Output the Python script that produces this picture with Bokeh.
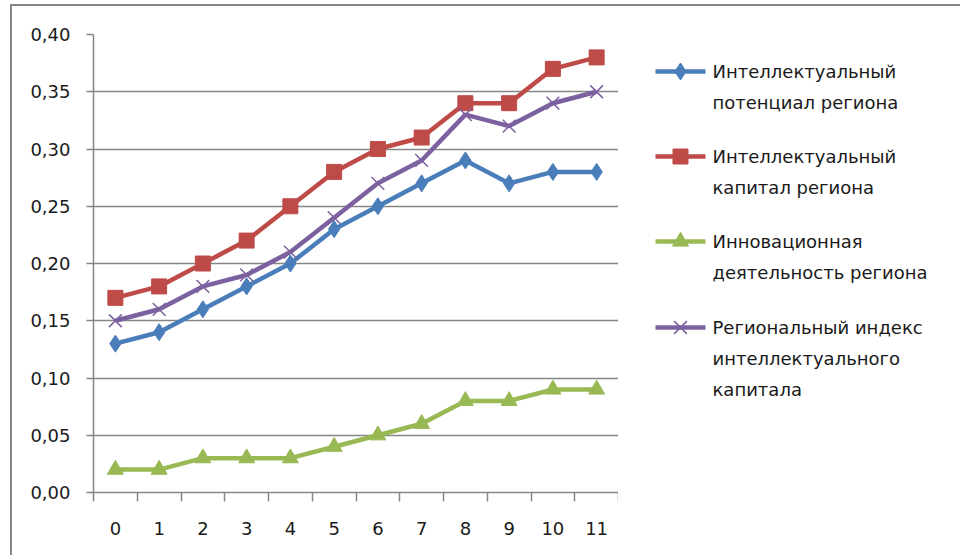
from bokeh.plotting import figure
from bokeh.layouts import row
from bokeh.models import FixedTicker, LinearAxis, Range1d, Grid
from bokeh.core.properties import value
from bokeh.embed import file_html
from bokeh.resources import INLINE

# periods along the x axis
periods = list(range(12))

# index values per period
potential = [0.13, 0.14, 0.16, 0.18, 0.20, 0.23, 0.25, 0.27, 0.29, 0.27, 0.28, 0.28]
capital = [0.17, 0.18, 0.20, 0.22, 0.25, 0.28, 0.30, 0.31, 0.34, 0.34, 0.37, 0.38]
innovation = [0.02, 0.02, 0.03, 0.03, 0.03, 0.04, 0.05, 0.06, 0.08, 0.08, 0.09, 0.09]
regional_index = [0.15, 0.16, 0.18, 0.19, 0.21, 0.24, 0.27, 0.29, 0.33, 0.32, 0.34, 0.35]

# legend text, one list of lines per series
series_names = [
    ["Интеллектуальный", "потенциал региона"],
    ["Интеллектуальный", "капитал региона"],
    ["Инновационная", "деятельность региона"],
    ["Региональный индекс", "интеллектуального", "капитала"],
]

y_ticks = [0.0, 0.05, 0.10, 0.15, 0.20, 0.25, 0.30, 0.35, 0.40]

FONT = "DejaVu Sans"
GRID = "#868686"
TEXT = "#1a1a1a"

colors = ["#4A7EBB", "#BE4B48", "#98B954", "#7D60A0"]
values = [potential, capital, innovation, regional_index]
markers = ["diamond", "square", "triangle", "x"]
sizes = [17, 15, 16, 18]

H = 549          # canvas height (page adds 6px above for the chart border)
CHART_W = 606    # plotting part, frame ends at its right edge
LEGEND_W = 342   # legend part to the right of the frame

# ---- main chart ----
p = figure(width=CHART_W, height=H, output_backend="svg", toolbar_location=None,
           x_range=Range1d(-0.5, 11.5), y_range=Range1d(0, 0.40),
           min_border_left=81, min_border_right=0, min_border_top=28,
           min_border_bottom=63, x_axis_type=None, y_axis_type=None)
p.outline_line_color = None
p.background_fill_color = "white"
p.border_fill_color = "white"

# y axis with comma decimals
yaxis = LinearAxis(ticker=FixedTicker(ticks=y_ticks))
yaxis.major_label_overrides = {t: f"{t:.2f}".replace(".", ",") for t in y_ticks}
yaxis.axis_line_color = GRID
yaxis.axis_line_width = 1.5
yaxis.major_tick_line_color = GRID
yaxis.major_tick_line_width = 1.5
yaxis.major_tick_out = 7
yaxis.major_tick_in = 0
yaxis.minor_tick_line_color = None
yaxis.major_label_standoff = 16
yaxis.major_label_text_font = FONT
yaxis.major_label_text_font_size = "18px"
yaxis.major_label_text_color = TEXT
p.add_layout(yaxis, "left")

# x axis: tick marks between categories
bounds = [i - 0.5 for i in range(13)]
xaxis = LinearAxis(ticker=FixedTicker(ticks=bounds))
xaxis.major_label_overrides = {b: "" for b in bounds}
xaxis.axis_line_color = GRID
xaxis.axis_line_width = 1.5
xaxis.major_tick_line_color = GRID
xaxis.major_tick_line_width = 1.5
xaxis.major_tick_out = 9
xaxis.major_tick_in = 0
xaxis.minor_tick_line_color = None
xaxis.major_label_standoff = 0
xaxis.major_label_text_font_size = "1px"
p.add_layout(xaxis, "below")

# x axis labels centred in each category
xlab = LinearAxis(ticker=FixedTicker(ticks=periods))
xlab.axis_line_color = None
xlab.major_tick_line_color = None
xlab.minor_tick_line_color = None
xlab.major_label_standoff = 14
xlab.major_label_text_font = FONT
xlab.major_label_text_font_size = "18px"
xlab.major_label_text_color = TEXT
p.add_layout(xlab, "below")

# horizontal gridlines
p.add_layout(Grid(dimension=1, ticker=FixedTicker(ticks=y_ticks),
                  grid_line_color=GRID, grid_line_width=1.5))

for vals, col, mk, sz in zip(values, colors, markers, sizes):
    p.line(periods, vals, line_color=col, line_width=4.5)
    if mk == "x":
        p.scatter(periods, vals, marker=mk, size=sz, line_color=col, line_width=1.5)
    else:
        p.scatter(periods, vals, marker=mk, size=sz, fill_color=col, line_color=col)

# ---- legend panel ----
# the row aligns this frame with the chart frame, so its ranges are given
# in page pixels: x 618..960, y 34 (top) .. 492 (bottom)
lg = figure(width=LEGEND_W, height=H, output_backend="svg", toolbar_location=None,
            x_range=Range1d(618, 960), y_range=Range1d(492, 34),
            min_border=0, x_axis_type=None, y_axis_type=None)
lg.outline_line_color = None
lg.xgrid.visible = False
lg.ygrid.visible = False
lg.background_fill_color = "white"
lg.border_fill_color = "white"

SAMPLE_X0, SAMPLE_X1 = 655, 705
TEXT_X = 712
ROW_Y = [71, 156, 241, 327]
LINE_PITCH = 31

for lines, col, mk, sz, ry in zip(series_names, colors, markers, sizes, ROW_Y):
    lg.line([SAMPLE_X0, SAMPLE_X1], [ry, ry], line_color=col, line_width=4.5)
    mid = (SAMPLE_X0 + SAMPLE_X1) / 2
    if mk == "x":
        lg.scatter([mid], [ry], marker=mk, size=sz, line_color=col, line_width=1.5)
    else:
        lg.scatter([mid], [ry], marker=mk, size=sz, fill_color=col, line_color=col)
    lg.text([TEXT_X] * len(lines), [ry + k * LINE_PITCH for k in range(len(lines))],
            text=lines, text_font=value(FONT), text_font_size="18px",
            text_color=TEXT, text_baseline="middle", text_align="left")

layout = row(p, lg, spacing=0,
             styles={"margin-left": "10px", "margin-top": "4px",
                     "border-left": f"2px solid {GRID}",
                     "border-top": f"2px solid {GRID}"})

open("out.html", "w").write(file_html(layout, INLINE))
